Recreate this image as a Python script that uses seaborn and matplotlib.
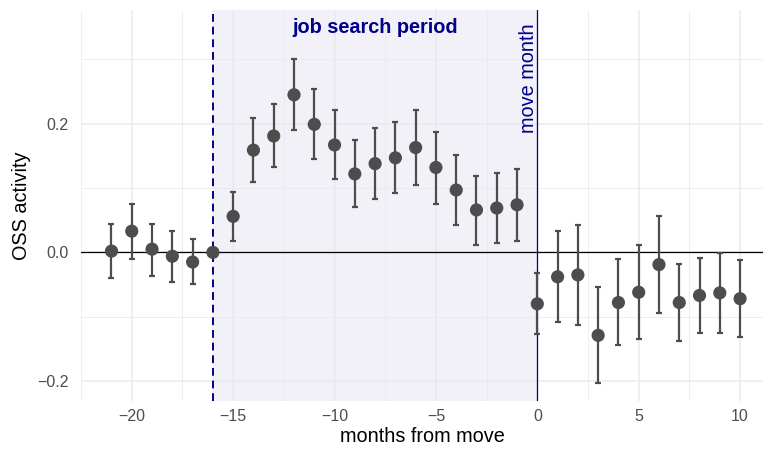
import numpy as np
import pandas as pd
import matplotlib
matplotlib.use("Agg")
import matplotlib.pyplot as plt
import seaborn as sns

# Event-study estimates of OSS activity around the move month
months = list(range(-21, 11))
estimate = [0.002, 0.033, 0.005, -0.006, -0.015, 0.000,
            0.056, 0.159, 0.181, 0.245, 0.199, 0.167, 0.122, 0.138,
            0.147, 0.163, 0.132, 0.097, 0.066, 0.069, 0.074,
            -0.080, -0.038, -0.035, -0.129, -0.078, -0.062, -0.019,
            -0.078, -0.067, -0.063, -0.072]
ci_low = [-0.040, -0.010, -0.036, -0.046, -0.049, 0.000,
          0.018, 0.110, 0.132, 0.190, 0.145, 0.114, 0.070, 0.083,
          0.093, 0.105, 0.076, 0.042, 0.012, 0.015, 0.018,
          -0.127, -0.109, -0.113, -0.203, -0.144, -0.134, -0.095,
          -0.138, -0.125, -0.125, -0.132]
ci_high = [0.044, 0.075, 0.044, 0.034, 0.021, 0.000,
           0.094, 0.209, 0.230, 0.301, 0.254, 0.222, 0.175, 0.193,
           0.202, 0.221, 0.187, 0.152, 0.119, 0.123, 0.130,
           -0.032, 0.033, 0.042, -0.054, -0.011, 0.011, 0.056,
           -0.018, -0.009, -0.001, -0.012]

search_start, move_month = -16, 0
x_ticks = [-20, -15, -10, -5, 0, 5, 10]
y_ticks = [-0.2, 0.0, 0.2]
y_tick_labels = ["\u22120.2", "0.0", "0.2"]
x_tick_labels = ["\u221220", "\u221215", "\u221210", "\u22125", "0", "5", "10"]

df = pd.DataFrame({"month": months, "estimate": estimate,
                   "low": ci_low, "high": ci_high})

sns.set_theme(style="white")
plt.rcParams["font.family"] = ["Liberation Sans", "DejaVu Sans"]

fig = plt.figure(figsize=(7.63, 4.51), dpi=100)
ax = fig.add_axes([0.106, 0.111, 0.894, 0.867])

ax.set_xlim(-22.51, 11.13)
ax.set_ylim(-0.231, 0.377)

# grid: major and minor lines
grid_col = "#ebebeb"
for v in x_ticks:
    ax.axvline(v, color=grid_col, lw=1.1, zorder=0)
for v in [-22.5, -17.5, -12.5, -7.5, -2.5, 2.5, 7.5]:
    ax.axvline(v, color=grid_col, lw=0.6, zorder=0)
for v in y_ticks:
    ax.axhline(v, color=grid_col, lw=1.1, zorder=0)
for v in [-0.1, 0.1, 0.3]:
    ax.axhline(v, color=grid_col, lw=0.6, zorder=0)

# job search window
ax.axvspan(search_start, move_month, color="#e6e6f2", alpha=0.55, lw=0, zorder=1)
ax.axhline(0, color="black", lw=0.9, zorder=2)
ax.axvline(search_start, color="#00008b", lw=1.4, ls=(0, (4, 2.5)), zorder=2)
ax.axvline(move_month, color="#00008b", lw=0.9, zorder=2)

# confidence intervals and point estimates
err = np.vstack([df["estimate"] - df["low"], df["high"] - df["estimate"]])
ax.errorbar(df["month"], df["estimate"], yerr=err, fmt="none",
            ecolor="#4d4d4d", elinewidth=1.6, capsize=2.0, capthick=1.6,
            zorder=3)
sns.scatterplot(data=df, x="month", y="estimate", ax=ax, s=90,
                color="#4d4d4d", edgecolor="none", linewidth=0, zorder=4)

ax.text(-8.0, 0.349, "job search period", color="#00008b",
        fontsize=14.3, fontweight="bold", ha="center", va="center")
ax.text(-0.45, 0.356, "move month", color="#00008b", fontsize=14.3,
        rotation=90, ha="center", va="top")

ax.set_xticks(x_ticks)
ax.set_xticklabels(x_tick_labels)
ax.set_yticks(y_ticks)
ax.set_yticklabels(y_tick_labels)
ax.tick_params(axis="x", length=0, labelsize=11.5, labelcolor="#4d4d4d", pad=6)
ax.tick_params(axis="y", length=0, labelsize=11.5, labelcolor="#4d4d4d", pad=9)
ax.set_xlabel("months from move", fontsize=14.3, color="black", labelpad=2)
ax.set_ylabel("OSS activity", fontsize=14.3, color="black", labelpad=4)
for s in ax.spines.values():
    s.set_visible(False)
ax.grid(False)

fig.savefig("out.png", dpi=100)
